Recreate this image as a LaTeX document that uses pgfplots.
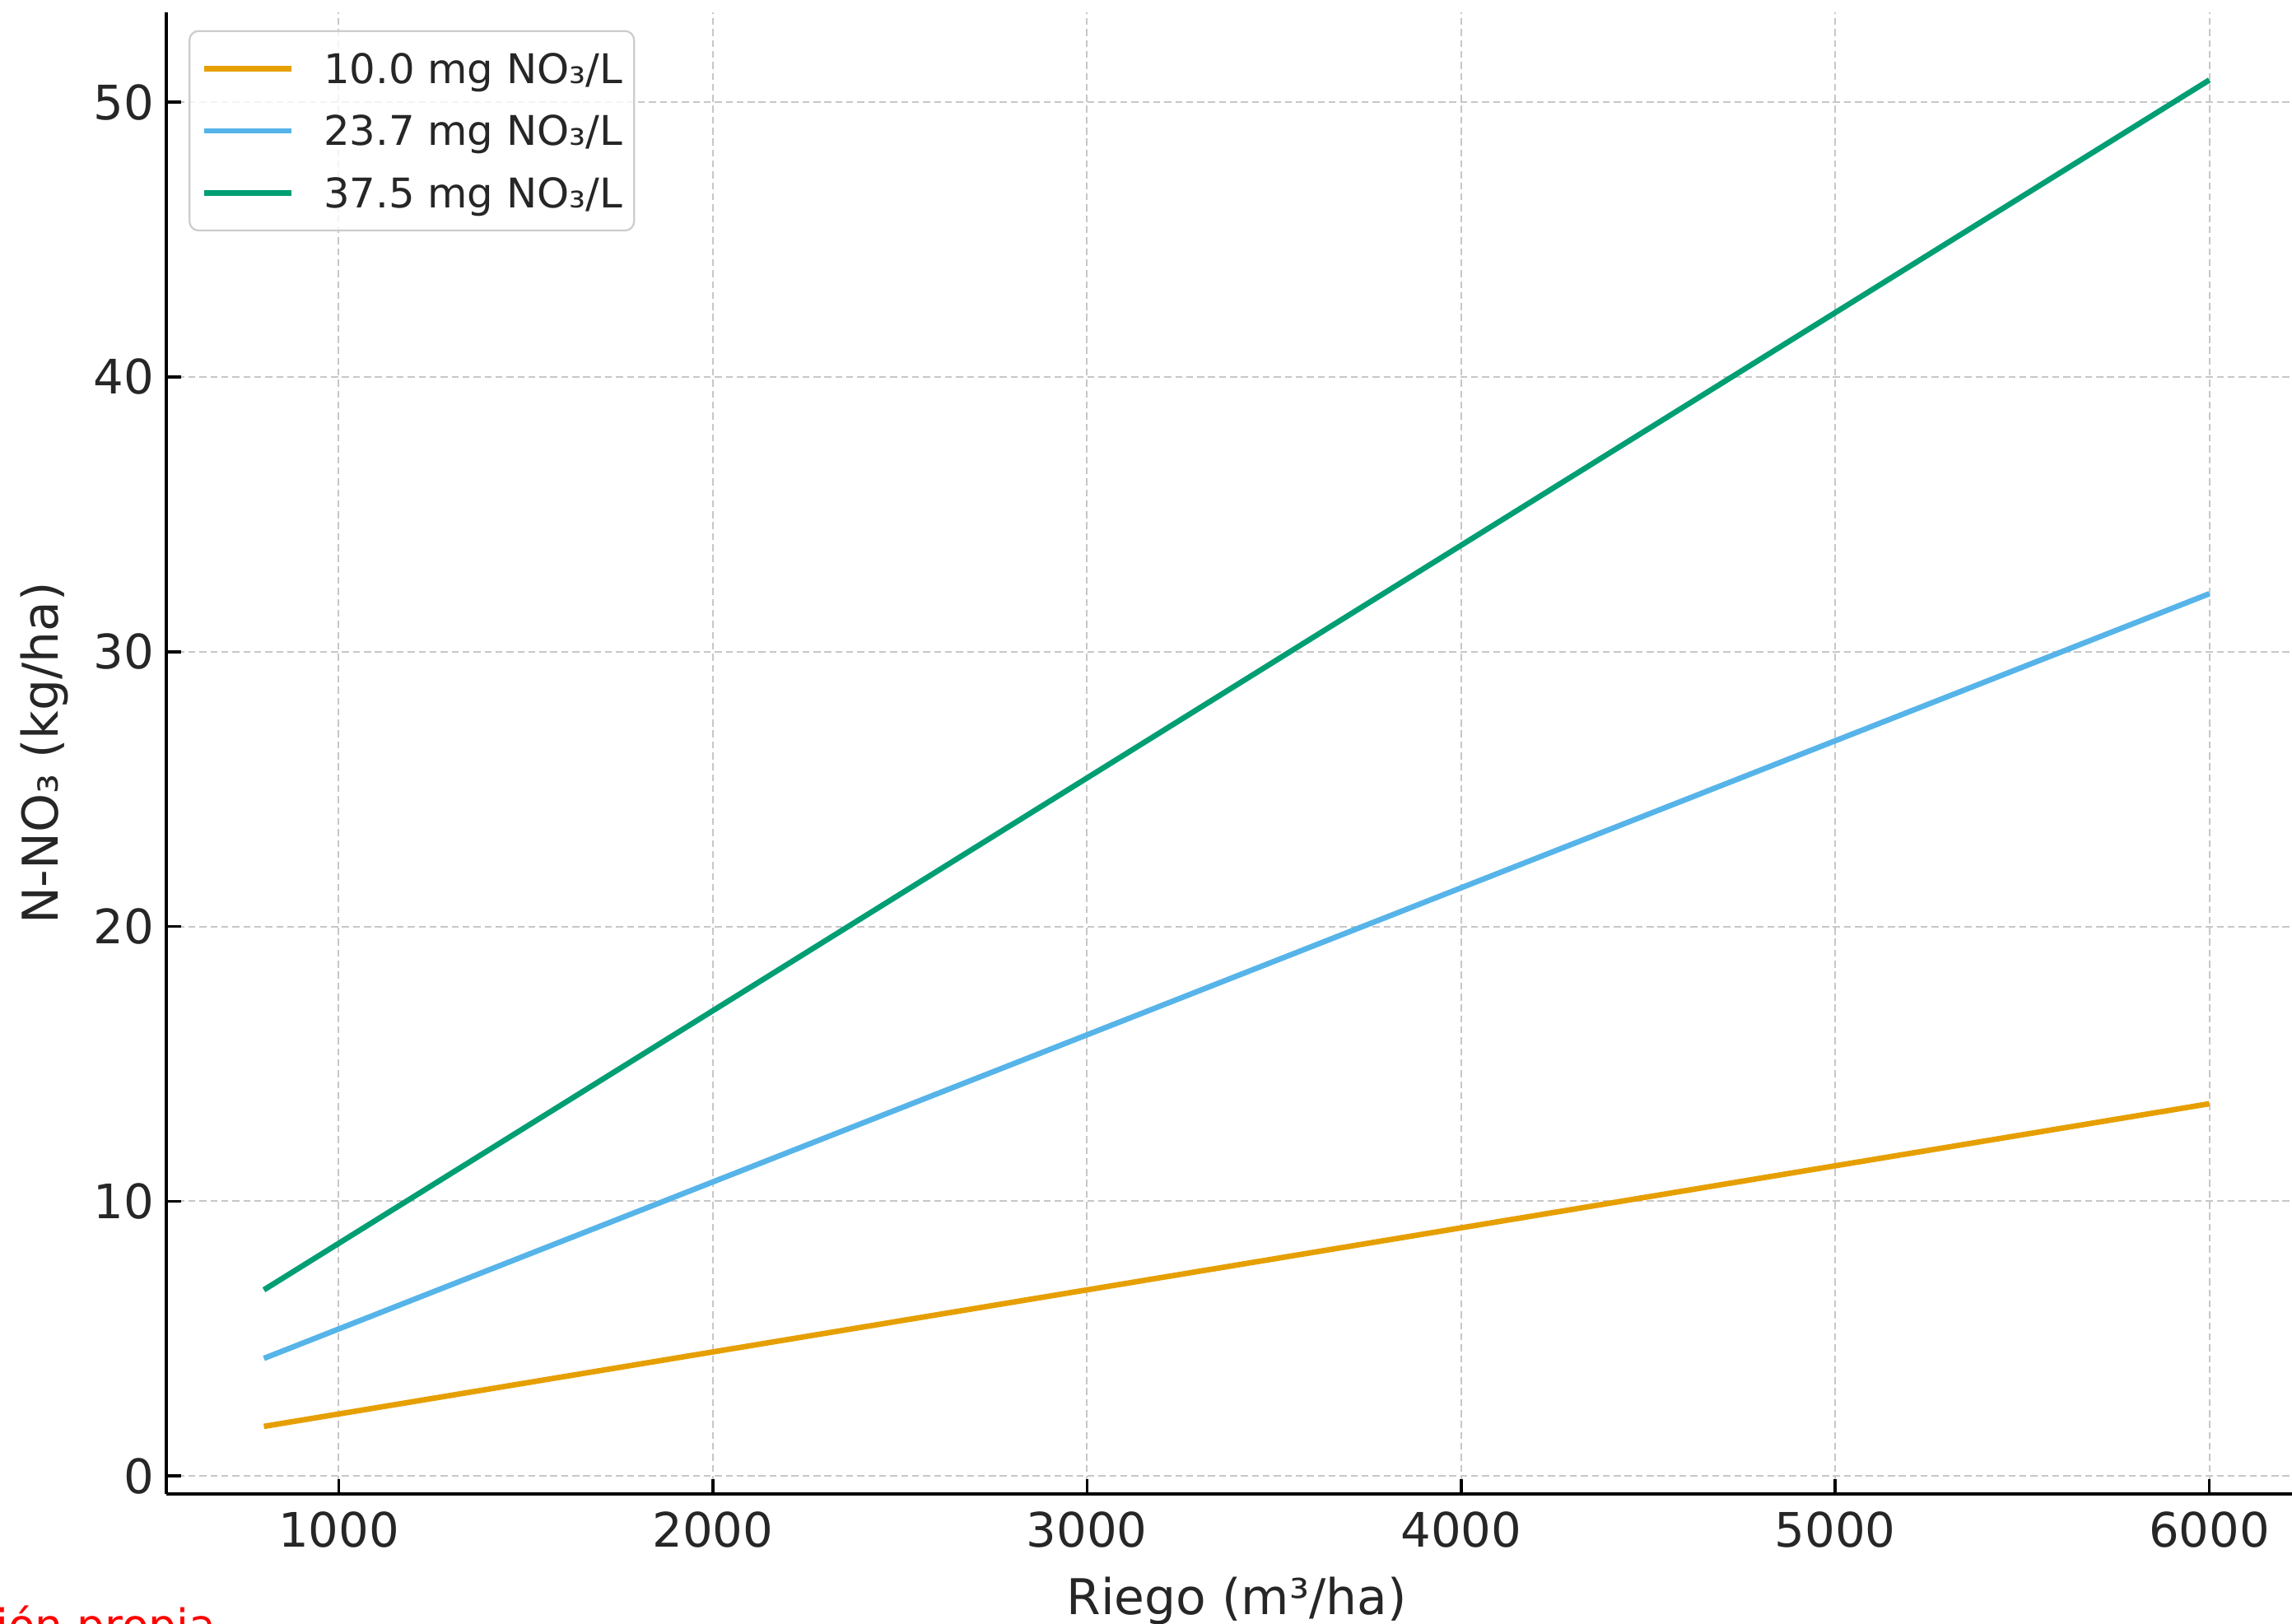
\documentclass[border=0pt]{standalone}
\usepackage{fontspec}
\setmainfont{DejaVu Sans}
\usepackage{pgfplots}
\pgfplotsset{compat=1.18}
\definecolor{cbOrange}{HTML}{E69F00}
\definecolor{cbBlue}{HTML}{56B4E9}
\definecolor{cbGreen}{HTML}{009E73}
\definecolor{txt}{HTML}{262626}

\begin{document}
\begin{tikzpicture}
% the reference is a crop of a larger figure: keep only that window
\path[use as bounding box, clip] (-45.6pt,-35.6pt) rectangle (581.6pt,408.84pt);
\begin{axis}[
    at={(0pt,0pt)}, anchor=south west,
    scale only axis, width=585.6pt, height=405.4pt,
    xmin=540, xmax=6260, ymin=-0.645, ymax=53.26,
    axis x line*=bottom, axis y line*=left,
    axis line style={-, line width=0.9pt, black},
    every outer x axis line/.append style={-},
    every outer y axis line/.append style={-},
    xtick={1000,2000,...,6000}, ytick={0,10,...,50},
    tick align=inside, major tick length=4pt,
    tick style={line width=0.8pt, black},
    grid=major,
    major grid style={black!22, line width=0.45pt, dash pattern=on 1.9pt off 1.1pt},
    tick label style={font=\fontsize{13}{15}\selectfont, text=txt},
    xticklabel style={yshift=-1.5pt},
    /pgf/number format/.cd, 1000 sep={}, assume math mode=true, /pgfplots/.cd,
    xlabel={Riego (m³/ha)}, ylabel={N-NO₃ (kg/ha)},
    label style={font=\fontsize{13.5}{16}\selectfont, text=txt},
    xlabel style={yshift=-1pt},
    legend cell align=left,
    legend image code/.code={\draw[#1] (0pt,0pt) -- (24pt,0pt);},
    legend style={at={(0,1)}, anchor=north west, xshift=6pt, yshift=-4.8pt,
        draw=black!20, line width=0.5pt, rounded corners=2.5pt,
        fill=white, fill opacity=0.8, draw opacity=1, text opacity=1,
        inner xsep=3.2pt, inner ysep=1.8pt, column sep=8pt,
        font=\fontsize{11.2}{13}\selectfont, text=txt,
        nodes={text height=8.5pt, text depth=0.5pt, inner ysep=4pt, inner xsep=0pt}},
]
\addplot[cbOrange, line width=1.5pt] coordinates {
    (800,1.806) (1000,2.258) (2000,4.516) (3000,6.774)
    (4000,9.032) (5000,11.290) (6000,13.548)
};
\addlegendentry{10.0 mg NO₃/L}
\addplot[cbBlue, line width=1.5pt] coordinates {
    (800,4.281) (1000,5.352) (2000,10.703) (3000,16.055)
    (4000,21.406) (5000,26.758) (6000,32.110)
};
\addlegendentry{23.7 mg NO₃/L}
\addplot[cbGreen, line width=1.5pt] coordinates {
    (800,6.774) (1000,8.468) (2000,16.935) (3000,25.403)
    (4000,33.871) (5000,42.339) (6000,50.806)
};
\addlegendentry{37.5 mg NO₃/L}
\end{axis}
\node[anchor=base east, text=red, font=\fontsize{12}{14}\selectfont, inner sep=0pt]
    at (13.6pt,-40.3pt) {Fuente: Elaboración propia};
\end{tikzpicture}
\end{document}
